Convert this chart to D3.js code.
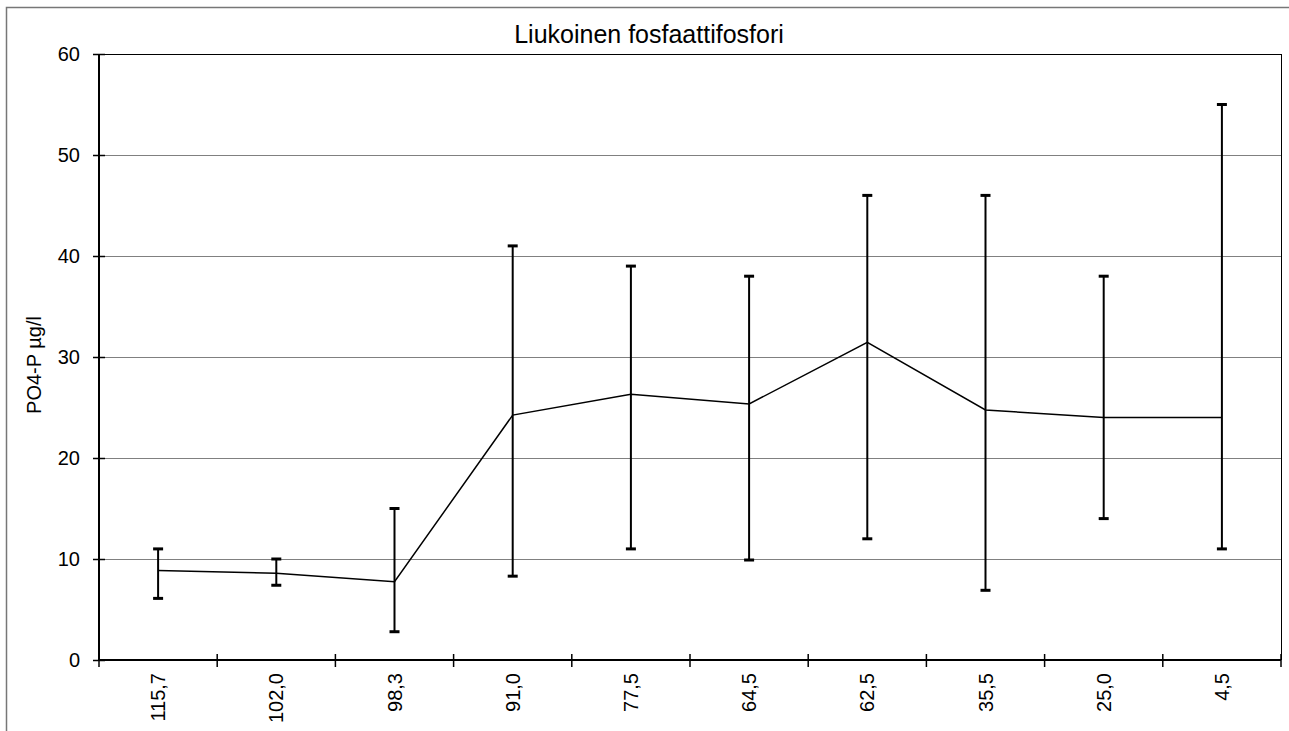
<!DOCTYPE html>
<html><head><meta charset="utf-8">
<script src="https://cdn.jsdelivr.net/npm/d3@7"></script>
<style>body{margin:0;background:#fff}svg{display:block}text{font-family:Arial,"Liberation Sans",sans-serif;fill:#000}</style>
</head><body><svg id="c" width="1289" height="731"></svg>
<script>
const categories = ["115,7","102,0","98,3","91,0","77,5","64,5","62,5","35,5","25,0","4,5"];
const means = [8.85, 8.6, 7.75, 24.25, 26.3, 25.35, 31.45, 24.75, 24.0, 24.0];
const lows  = [6.1, 7.4, 2.8, 8.3, 11.0, 9.9, 12.0, 6.9, 14.0, 11.0];
const highs = [11.0, 10.0, 15.0, 41.0, 39.0, 38.0, 46.0, 46.0, 38.0, 55.0];
const yTicks = [0,10,20,30,40,50,60];
const title = "Liukoinen fosfaattifosfori";
const yLabel = "PO4-P µg/l";

const svg = d3.select("#c");
const L=99, R=1281, T=54, B=660;
const x = d3.scaleBand().domain(categories).range([L,R]);
const y = d3.scaleLinear().domain([0,60]).range([B,T]);
const data = categories.map((c,i)=>({c, m:means[i], lo:lows[i], hi:highs[i]}));

// outer frame (top + left)
svg.append("path").attr("d",`M6.5,731 V7.5 H1289`).attr("fill","none").attr("stroke","#777").attr("stroke-width",1.5);

// gridlines
svg.append("g").selectAll("line").data(yTicks.filter(d=>d>0)).join("line")
  .attr("x1",L).attr("x2",R).attr("y1",d=>Math.round(y(d))+0.5).attr("y2",d=>Math.round(y(d))+0.5)
  .attr("stroke",d=>d===60?"#000":"#808080").attr("stroke-width",d=>d===60?1.2:1);
// right border
svg.append("line").attr("x1",R+0.5).attr("x2",R+0.5).attr("y1",T).attr("y2",B).attr("stroke","#000").attr("stroke-width",1);

// y axis
const ya = svg.append("g").attr("transform",`translate(${L},0)`)
  .call(d3.axisLeft(y).tickValues(yTicks).tickSize(6).tickPadding(13).tickFormat(d3.format("d")));
ya.select(".domain").attr("stroke","#000").attr("stroke-width",2).attr("d",`M0,${B}V${T}`);
ya.selectAll(".tick line").attr("x1",-6).attr("x2",6).attr("stroke","#000").attr("stroke-width",1.5);
ya.selectAll(".tick text").style("font-size","20px").attr("fill","#000");

// x axis
const xa = svg.append("g").attr("transform",`translate(0,${B})`)
  .call(d3.axisBottom(x).tickSize(0).tickFormat(""));
xa.select(".domain").attr("stroke","#000").attr("stroke-width",2).attr("d",`M${L},0H${R}`);
xa.selectAll(".tick").remove();
const bounds = d3.range(categories.length+1).map(i=>L+i*x.step());
xa.selectAll("line.bt").data(bounds).join("line").attr("class","bt")
  .attr("x1",d=>d).attr("x2",d=>d).attr("y1",-6).attr("y2",7).attr("stroke","#000").attr("stroke-width",1.5);
xa.selectAll("text.xl").data(categories).join("text").attr("class","xl")
  .attr("transform",d=>`translate(${x(d)+x.bandwidth()/2},13) rotate(-90)`)
  .attr("text-anchor","end").attr("dy","0.35em").style("font-size","20px").text(d=>d);

const cx = d=>x(d.c)+x.bandwidth()/2;
// error bars
const eb = svg.append("g");
eb.selectAll("line.v").data(data).join("line").attr("class","v")
  .attr("x1",cx).attr("x2",cx).attr("y1",d=>y(d.lo)).attr("y2",d=>y(d.hi)).attr("stroke","#000").attr("stroke-width",2);
eb.selectAll("line.h").data(data).join("line").attr("class","h")
  .attr("x1",d=>cx(d)-5).attr("x2",d=>cx(d)+5).attr("y1",d=>y(d.hi)).attr("y2",d=>y(d.hi)).attr("stroke","#000").attr("stroke-width",3);
eb.selectAll("line.l").data(data).join("line").attr("class","l")
  .attr("x1",d=>cx(d)-5).attr("x2",d=>cx(d)+5).attr("y1",d=>y(d.lo)).attr("y2",d=>y(d.lo)).attr("stroke","#000").attr("stroke-width",3);

// mean line
svg.append("path").datum(data).attr("fill","none").attr("stroke","#000").attr("stroke-width",1.5)
  .attr("d",d3.line().x(cx).y(d=>y(d.m)));

// title
svg.append("text").attr("x",649).attr("y",43).attr("text-anchor","middle").style("font-size","25px").text(title);
// y label
svg.append("text").attr("transform",`translate(34,${(T+B)/2+8}) rotate(-90)`).attr("text-anchor","middle")
  .attr("dy","0.35em").style("font-size","20px").text(yLabel);
</script></body></html>
